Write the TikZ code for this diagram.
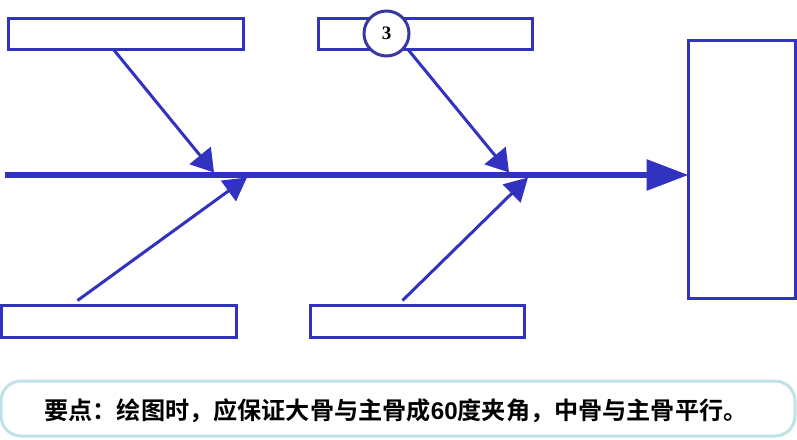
\documentclass[tikz,border=0pt]{standalone}
\usepackage{fontspec}
\setmainfont{Liberation Sans}
\newfontfamily\cjkfont{Noto Sans CJK SC}[BoldFont={* Bold}]
\newfontfamily\numfont{Liberation Serif}
\usetikzlibrary{arrows.meta}
\definecolor{bone}{RGB}{50,50,192}
\definecolor{ringc}{RGB}{56,56,160}
\definecolor{notebd}{RGB}{190,226,230}
\tikzset{
  bonebox/.style={draw=bone,line width=3pt,fill=white,inner sep=0pt,outer sep=0pt},
  bigbone/.style={draw=bone,line width=3pt,-{Triangle[length=22pt,width=27pt,fill=bone]}},
  lowbone/.style={draw=bone,line width=3pt,-{Triangle[length=23pt,width=25pt,fill=bone]}},
  spine/.style={draw=bone,line width=6pt,-{Triangle[length=42pt,width=30pt,fill=bone]}},
  numcircle/.style={circle,draw=ringc,line width=3pt,fill=white,minimum size=45pt,inner sep=0pt,outer sep=0pt,font=\fontsize{19}{19}\selectfont\numfont\bfseries},
  notebox/.style={draw=notebd,line width=3pt,fill=white,rounded corners=20pt,inner sep=0pt,outer sep=0pt,minimum width=794pt,minimum height=55pt}
}
\begin{document}
\begin{tikzpicture}[x=1pt,y=-1pt]
\useasboundingbox (0,0) rectangle (797,439);
\fill[white] (0,0) rectangle (797,439);
% boxes
\node[bonebox,minimum width=235pt,minimum height=31pt] (ta) at (126,34) {};
\node[bonebox,minimum width=214pt,minimum height=31pt] (tb) at (425.5,34) {};
\node[bonebox,minimum width=235pt,minimum height=32pt] (ba) at (119,321.5) {};
\node[bonebox,minimum width=214pt,minimum height=32pt] (bb) at (417.5,321.5) {};
\node[bonebox,minimum width=107pt,minimum height=258pt] (head) at (742,169) {};
% spine
\coordinate (tail) at (5,175);
\coordinate (ja) at (214,172.5);
\coordinate (jb) at (509,172.5);
\coordinate (jc) at (247,177.5);
\coordinate (jd) at (528,177.5);
\draw[spine] (tail) -- (head.west |- tail);
% bones
\draw[bigbone] ([xshift=105pt]ta.south west) -- (ja);
\draw[bigbone] ([xshift=89.5pt]tb.south west) -- (jb);
\draw[lowbone] ([xshift=76pt,yshift=5pt]ba.north west) -- (jc);
\draw[lowbone] ([xshift=92pt,yshift=5pt]bb.north west) -- (jd);
\node[numcircle] (three) at (386.5,33.5) {3};
% note
\node[notebox] (note) at (398,408.5) {};
\node[anchor=center,inner sep=0pt,font=\fontsize{24.15}{24.15}\selectfont\bfseries] (notetext) at (396,411)
  {\cjkfont 要点：绘图时，应保证大骨与主骨成{\rmfamily 60}度夹角，中骨与主骨平行。};
\end{tikzpicture}
\end{document}
